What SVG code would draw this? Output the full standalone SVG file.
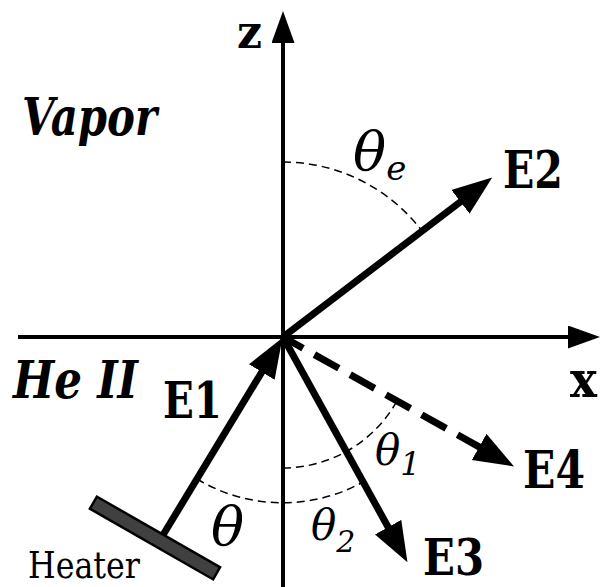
<svg xmlns="http://www.w3.org/2000/svg" width="601" height="587" viewBox="0 0 601 587">
<style>
.ax{stroke:#000;stroke-width:4;fill:none}
.vec{stroke:#000;stroke-width:7;fill:none}
.dvec{stroke:#000;stroke-width:7;fill:none;stroke-dasharray:28 13;stroke-dashoffset:5}
.arc{stroke:#000;stroke-width:1.5;fill:none;stroke-dasharray:8 5}
text{font-family:'DejaVu Serif','Liberation Serif',serif;fill:#000}
.lb{font-weight:bold}
.it{font-style:italic}
</style>
<defs>
<marker id="ah" markerUnits="userSpaceOnUse" markerWidth="42" markerHeight="32" refX="1" refY="15" orient="auto">
<path d="M0,0 L40,15 L0,30 Z" fill="#000" stroke="none"/>
</marker>
<marker id="axh" markerUnits="userSpaceOnUse" markerWidth="34" markerHeight="25" refX="1" refY="11.5" orient="auto">
<path d="M0,0 L32,11.5 L0,23 Z" fill="#000" stroke="none"/>
</marker>
</defs>
<g id="axes">
<line class="ax" x1="283" y1="587" x2="283" y2="42" marker-end="url(#axh)"/>
<line class="ax" x1="18" y1="337" x2="569" y2="337" marker-end="url(#axh)"/>
<text class="lb" x="237" y="48" font-size="47" textLength="25" lengthAdjust="spacingAndGlyphs">z</text>
<text class="lb" x="570" y="397" font-size="51" textLength="27" lengthAdjust="spacingAndGlyphs">x</text>
</g>
<g id="regions">
<text class="lb it" x="22" y="135" font-size="52" textLength="135" lengthAdjust="spacingAndGlyphs">Vapor</text>
<text class="lb it" x="13" y="398" font-size="52" textLength="125" lengthAdjust="spacingAndGlyphs">He II</text>
</g>
<g id="heater">
<rect x="-71" y="-7" width="142" height="14" transform="translate(155,538) rotate(29.8)" fill="#404040" stroke="#000" stroke-width="2.5"/>
<text x="28" y="578" font-size="38" textLength="112" lengthAdjust="spacingAndGlyphs">Heater</text>
</g>
<g id="connectors">
<line class="vec" x1="163" y1="535" x2="262.3" y2="371.2" marker-end="url(#ah)"/>
<line class="vec" x1="283" y1="337" x2="461.2" y2="201.2" marker-end="url(#ah)"/>
<line class="vec" x1="283" y1="337" x2="388.6" y2="528" marker-end="url(#ah)"/>
<line class="dvec" x1="283" y1="337" x2="480" y2="447.4" marker-end="url(#ah)"/>
</g>
<g id="angles">
<path class="arc" d="M283,162 A175,175 0 0 1 422,231"/>
<path class="arc" d="M197,479 A166,166 0 0 0 363,482"/>
<path class="arc" d="M283,468 A131,131 0 0 0 397,401"/>
<text class="it" x="353" y="170" font-size="55">θ<tspan font-size="34" dy="10">e</tspan></text>
<text class="it" x="211" y="545" font-size="55">θ</text>
<text class="it" x="375" y="465" font-size="42">θ<tspan font-size="32" dy="10">1</tspan></text>
<text class="it" x="311" y="540" font-size="42">θ<tspan font-size="30" dy="12">2</tspan></text>
</g>
<g id="labels">
<text class="lb" x="163" y="418" font-size="50" textLength="59" lengthAdjust="spacingAndGlyphs">E1</text>
<text class="lb" x="503" y="188" font-size="52" textLength="60" lengthAdjust="spacingAndGlyphs">E2</text>
<text class="lb" x="423" y="575" font-size="50" textLength="61" lengthAdjust="spacingAndGlyphs">E3</text>
<text class="lb" x="523" y="488" font-size="52" textLength="62" lengthAdjust="spacingAndGlyphs">E4</text>
</g>
</svg>
